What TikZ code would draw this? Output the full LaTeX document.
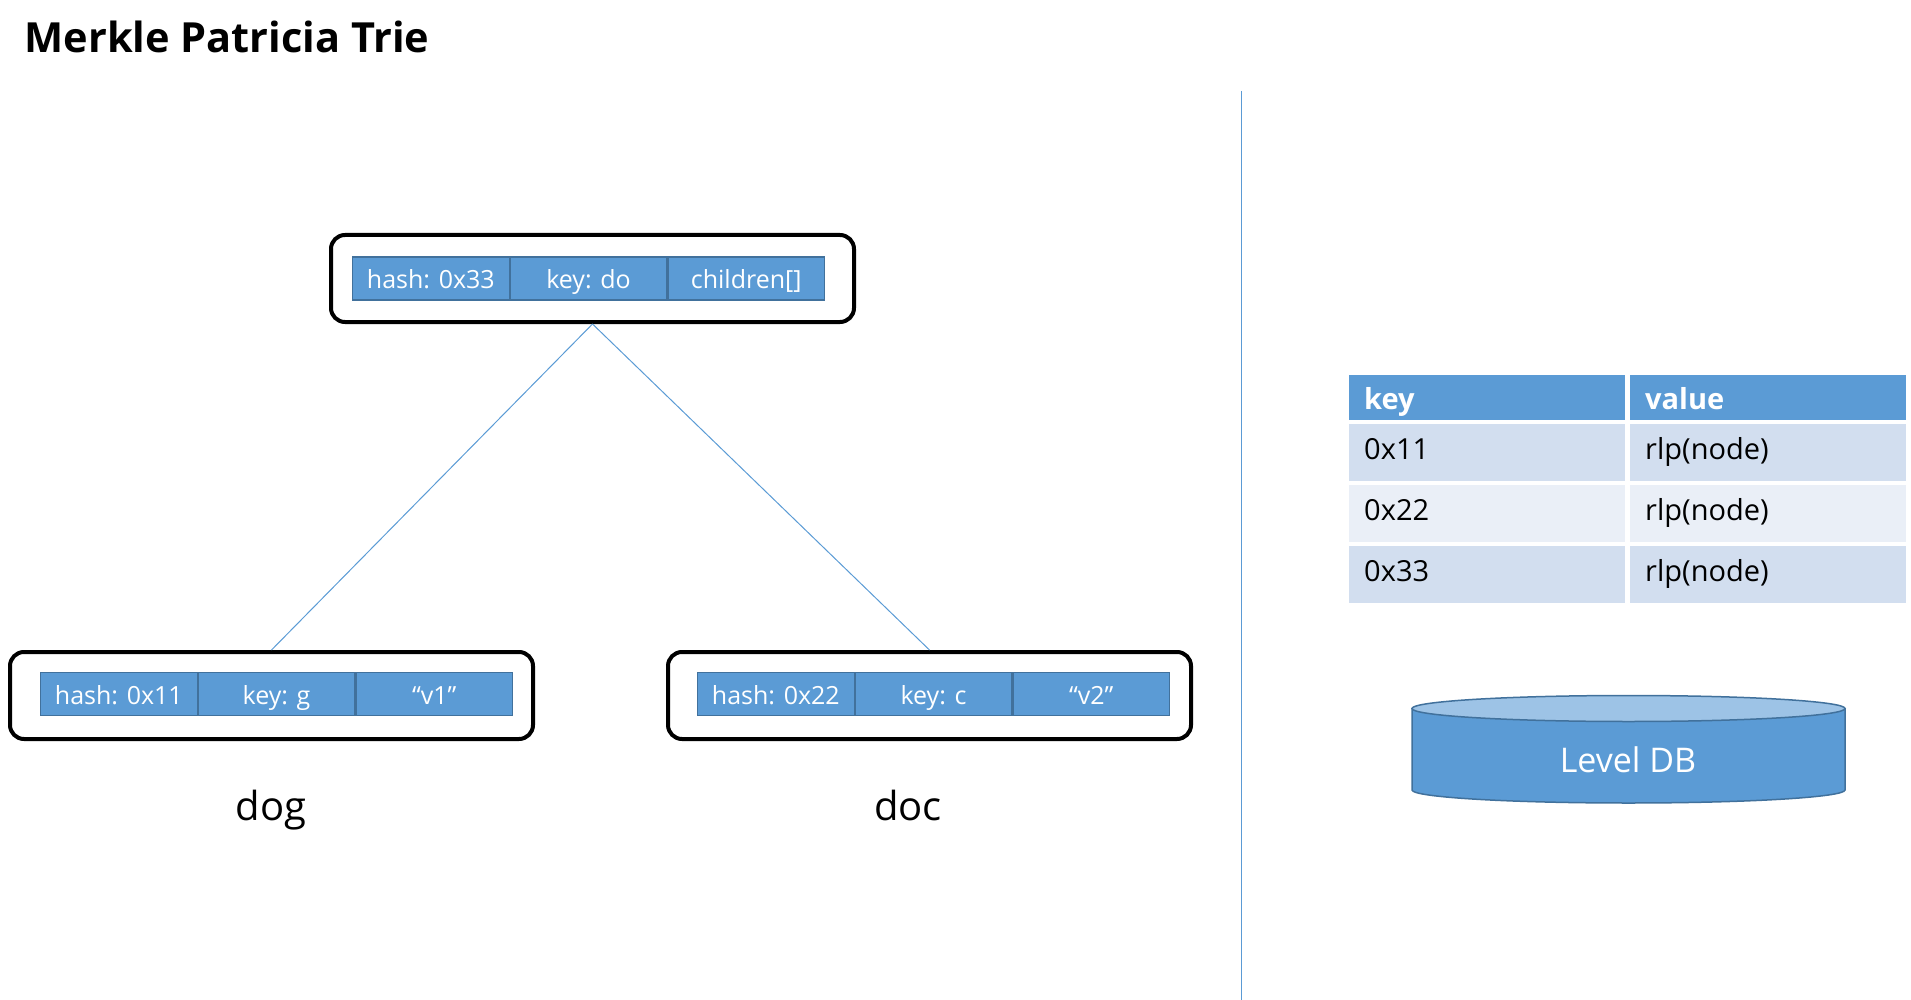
\documentclass[tikz,border=0pt]{standalone}
\usepackage{fontspec}
\setmainfont{Open Sans}
\definecolor{cellblue}{HTML}{5B9BD5}
\definecolor{celledge}{HTML}{41719C}
\definecolor{rowdark}{HTML}{D2DEEF}
\definecolor{rowlight}{HTML}{EAEFF7}
\definecolor{dbtop}{HTML}{9DC3E6}
\begin{document}
\begin{tikzpicture}[x=1pt,y=-1pt,
  field/.style={draw=celledge, fill=cellblue, text=white, line width=1.2pt,
    minimum width=156.5pt, minimum height=43pt, inner sep=0pt, anchor=west,
    text height=22pt, text depth=2pt,
    font=\fontsize{25}{30}\selectfont},
  holder/.style={draw=black, line width=4pt, rounded corners=14pt,
    minimum width=523pt, minimum height=87pt, inner sep=0pt},
  link/.style={draw=cellblue, line width=1pt},
  word/.style={anchor=base, font=\fontsize{40}{48}\selectfont},
  tcell/.style={anchor=north west, inner xsep=15pt, inner ysep=0pt,
    minimum height=#1, text width=246pt, align=left,
    text height=21pt, text depth=8pt,
    font=\fontsize{29}{34}\selectfont},
  thead/.style={tcell=45pt, fill=cellblue, text=white, text height=24pt, text depth=1pt,
    font=\bfseries\fontsize{29}{34}\selectfont}
]
\useasboundingbox (0,0) rectangle (1911,1000);

% title
\node[anchor=base west, font=\bfseries\fontsize{41.5}{48}\selectfont] (title) at (21,53) {Merkle Patricia Trie};

% root node
\node[holder] (root) at (592.5,278.5) {};
\node[field] (r1) at (352,278.5) {hash: 0x33};
\node[field] (r2) at (r1.east) {key: do};
\node[field] (r3) at (r2.east) {children[]};

% leaf "dog"
\node[holder] (left) at (271.5,695.5) {};
\node[field] (a1) at (40,694) {hash: 0x11};
\node[field] (a2) at (a1.east) {key: g};
\node[field] (a3) at (a2.east) {“v1”};

% leaf "doc"
\node[holder] (right) at (929.5,695.5) {};
\node[field] (b1) at (697,694) {hash: 0x22};
\node[field] (b2) at (b1.east) {key: c};
\node[field] (b3) at (b2.east) {“v2”};

% tree edges
\draw[link] (root.south) -- (left.north);
\draw[link] (root.south) -- (right.north);

% leaf labels
\node[word] (dog) at (271,820) {dog};
\node[word] (doc) at (908,820) {doc};

% separator
\coordinate (sepTop) at (1241,91);
\coordinate (sepBot) at (1241,1000);
\draw[link] (sepTop) -- (sepBot);

% key/value table
\node[thead] (hk) at (1349,375) {key};
\node[thead] (hv) at (1630,375) {value};
\node[tcell=57pt, fill=rowdark] (k1) at (1349,424) {0x11};
\node[tcell=57pt, fill=rowdark] (v1) at (1630,424) {rlp(node)};
\node[tcell=57pt, fill=rowlight] (k2) at (1349,485) {0x22};
\node[tcell=57pt, fill=rowlight] (v2) at (1630,485) {rlp(node)};
\node[tcell=57pt, fill=rowdark] (k3) at (1349,546) {0x33};
\node[tcell=57pt, fill=rowdark] (v3) at (1630,546) {rlp(node)};

% database cylinder
\filldraw[fill=cellblue, draw=celledge, line width=1.5pt]
  (1412,708.5) -- (1412,790) arc[start angle=180, end angle=360, x radius=216.5pt, y radius=13pt]
  -- (1845,708.5) -- cycle;
\filldraw[fill=dbtop, draw=celledge, line width=1.5pt]
  (1628.5,708.5) ellipse[x radius=216.5pt, y radius=13pt];
\node[text=white, font=\fontsize{34}{40}\selectfont] (db) at (1628,760) {Level DB};
\end{tikzpicture}
\end{document}
